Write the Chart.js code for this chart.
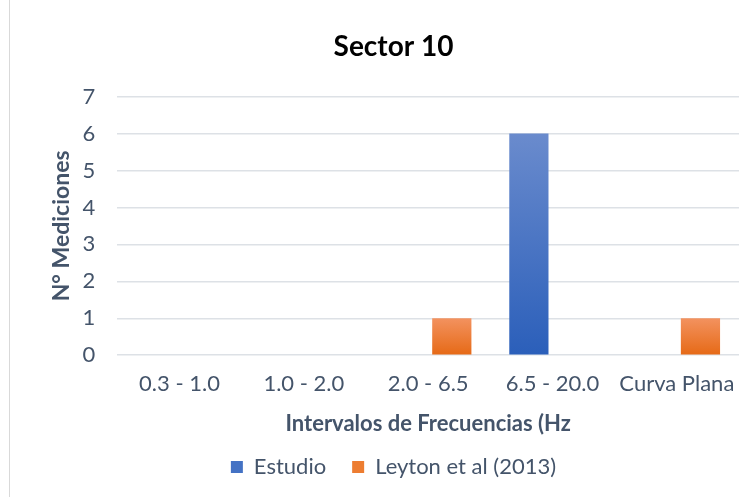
<!DOCTYPE html>
<html>
<head>
<meta charset="utf-8">
<script src="https://cdn.jsdelivr.net/npm/chart.js@4/dist/chart.umd.min.js"></script>
<style>
  html, body { margin: 0; padding: 0; background: #fff; }
  #wrap { width: 756px; height: 497px; position: relative; }
</style>
</head>
<body>
<div id="wrap"><canvas id="sectorChart" width="756" height="497"></canvas></div>
<script>
  const categories = ['0.3 - 1.0', '1.0 - 2.0', '2.0 - 6.5', '6.5 - 20.0', 'Curva Plana'];
  const estudio = [0, 0, 0, 6, 0];
  const leyton = [0, 0, 1, 0, 1];
  const yTicks = [0, 1, 2, 3, 4, 5, 6, 7];

  const textColor = '#44546a';
  const fontFamily = 'Lato, "Open Sans", sans-serif';

  // Excel-style vertical gradient on every bar
  const barGradients = {
    id: 'barGradients',
    beforeDatasetsDraw(chart) {
      const ctx = chart.ctx;
      const stops = [['#6a8bcd', '#2b5fba'], ['#f3925f', '#e66a17']];
      chart.data.datasets.forEach((ds, i) => {
        chart.getDatasetMeta(i).data.forEach(bar => {
          if (bar.base === bar.y) return;
          const g = ctx.createLinearGradient(0, bar.y, 0, bar.base);
          g.addColorStop(0, stops[i][0]);
          g.addColorStop(1, stops[i][1]);
          bar.options.backgroundColor = g;
        });
      });
    }
  };

  const frameLine = {
    id: 'frameLine',
    afterDraw(chart) {
      const ctx = chart.ctx;
      ctx.save();
      ctx.strokeStyle = '#d9d9d9';
      ctx.lineWidth = 1;
      ctx.beginPath();
      ctx.moveTo(9.5, 0);
      ctx.lineTo(9.5, 497);
      ctx.stroke();
      ctx.restore();
    }
  };

  const sectorData = {
    labels: categories,
    datasets: [{
      label: 'Estudio',
      data: estudio,
      backgroundColor: '#4472c4',
      categoryPercentage: 0.76,
      barPercentage: 0.83
    }, {
      label: 'Leyton et al (2013)',
      data: leyton,
      backgroundColor: '#ed7d31',
      categoryPercentage: 0.76,
      barPercentage: 0.83
    }]
  };

  const sectorConfig = {
    type: 'bar',
    data: sectorData,
    options: {
      responsive: false,
      animation: false,
      layout: { padding: { left: 48, right: 17, top: 20, bottom: 9 } },
      plugins: {
        title: {
          display: true,
          text: 'Sector 10',
          color: '#000',
          font: { family: fontFamily, size: 28, weight: 'bold' },
          padding: { top: 10, bottom: 33 }
        },
        legend: {
          position: 'bottom',
          labels: {
            color: textColor,
            font: { family: fontFamily, size: 22 },
            boxWidth: 12,
            boxHeight: 12,
            padding: 26
          }
        },
        tooltip: { enabled: false }
      },
      scales: {
        x: {
          grid: { display: false, drawTicks: false },
          border: { display: false },
          ticks: {
            color: textColor,
            font: { family: fontFamily, size: 22 },
            padding: 16,
            maxRotation: 0
          },
          title: {
            display: true,
            text: 'Intervalos de Frecuencias (Hz',
            color: textColor,
            font: { family: fontFamily, size: 22, weight: 'bold' },
            padding: { top: -3, bottom: -7 }
          }
        },
        y: {
          min: 0,
          max: 7,
          afterBuildTicks(axis) {
            axis.ticks = yTicks.map(v => ({ value: v }));
          },
          grid: { color: '#dde1e6', lineWidth: 1.5, drawTicks: false },
          border: { display: false },
          ticks: {
            color: textColor,
            font: { family: fontFamily, size: 22 },
            padding: 22
          },
          title: {
            display: true,
            text: 'N° Mediciones',
            color: textColor,
            font: { family: fontFamily, size: 23, weight: 'bold' },
            padding: { top: 0, bottom: -15 }
          }
        }
      }
    },
    plugins: [barGradients, frameLine]
  };

  const sectorChart = new Chart(
    document.getElementById('sectorChart'),
    sectorConfig
  );
</script>
</body>
</html>
